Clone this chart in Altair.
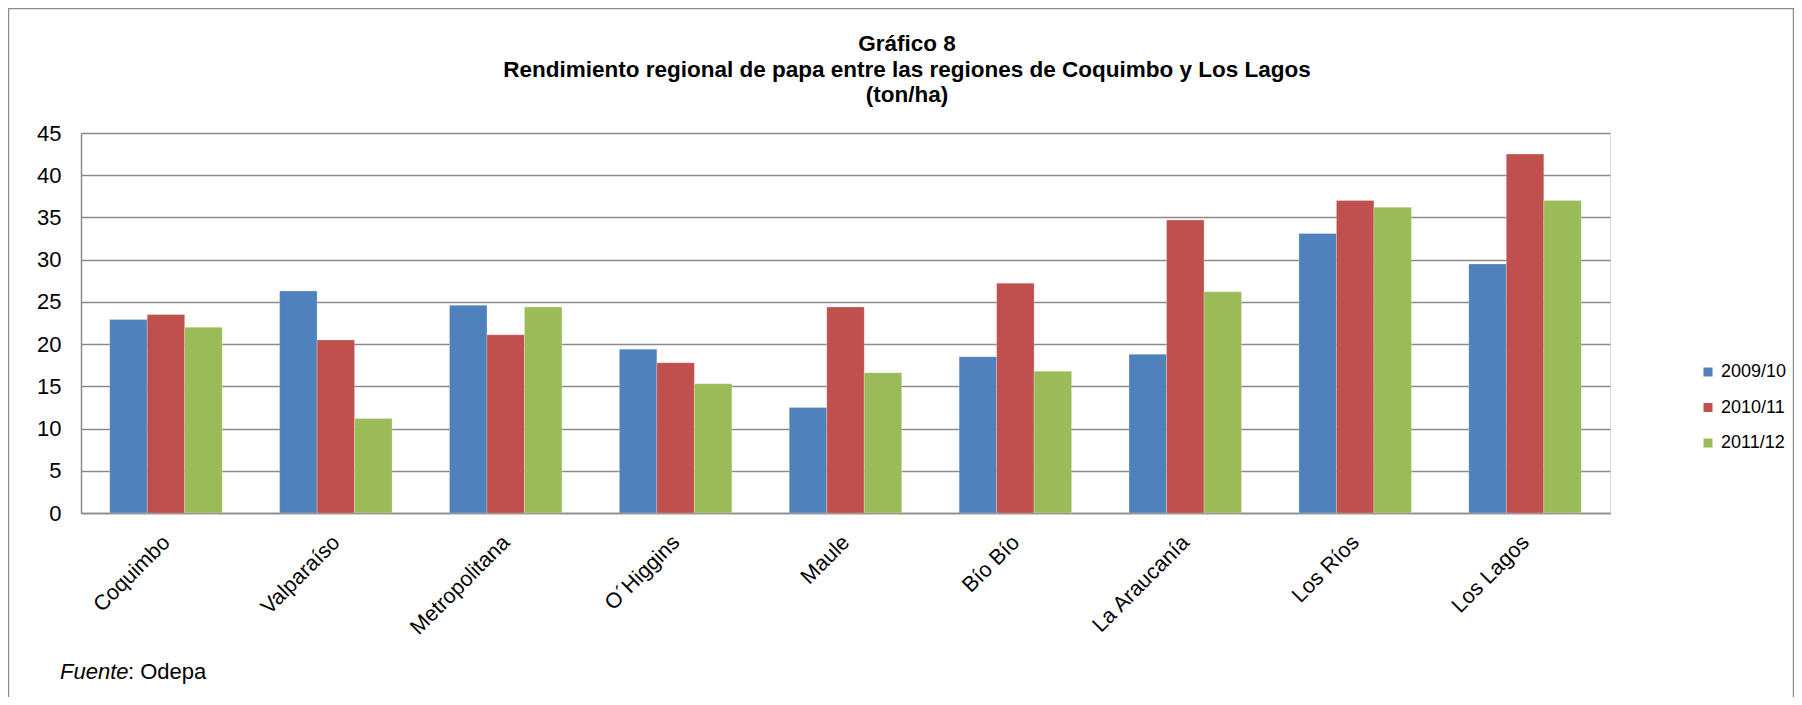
import altair as alt
import pandas as pd

regions = ["Coquimbo", "Valparaíso", "Metropolitana", "O´Higgins", "Maule",
           "Bío Bío", "La Araucanía", "Los Ríos", "Los Lagos"]
seasons = ["2009/10", "2010/11", "2011/12"]
v2009 = [22.9, 26.3, 24.6, 19.4, 12.5, 18.5, 18.8, 33.1, 29.5]
v2010 = [23.5, 20.5, 21.1, 17.8, 24.4, 27.2, 34.7, 37.0, 42.5]
v2011 = [22.0, 11.2, 24.4, 15.3, 16.6, 16.8, 26.2, 36.2, 37.0]
colors = ["#4F81BD", "#C0504D", "#9BBB59"]
y_ticks = [0, 5, 10, 15, 20, 25, 30, 35, 40, 45]
title_lines = ["Gráfico 8",
               "Rendimiento regional de papa entre las regiones de Coquimbo y Los Lagos",
               "(ton/ha)"]

rows = []
for s, vals in zip(seasons, [v2009, v2010, v2011]):
    for r, v in zip(regions, vals):
        rows.append({"region": r, "season": s, "value": v})
df = pd.DataFrame(rows)

FONT = "Liberation Sans"
W, H = 1529, 380
PAD = {"left": 73, "top": 125, "right": 184, "bottom": 184}
GRID = "#8a8a8a"

bars = alt.Chart(df).mark_bar(stroke="#ffffff", strokeWidth=0.4, strokeOpacity=0.6).encode(
    x=alt.X("region:N", sort=regions,
            scale=alt.Scale(paddingInner=0.338, paddingOuter=0.169),
            axis=alt.Axis(title=None, labelAngle=-45, labelAlign="right",
                          labelBaseline="middle", labelPadding=26, labelOffset=1,
                          ticks=False,
                          labelFontSize=21.5, labelFont=FONT, labelColor="#000000",
                          domainColor=GRID, domainWidth=1.5, grid=False)),
    xOffset=alt.XOffset("season:N", sort=seasons,
                        scale=alt.Scale(paddingInner=0, paddingOuter=0)),
    y=alt.Y("value:Q", scale=alt.Scale(domain=[0, 45], nice=False),
            axis=alt.Axis(title=None, values=y_ticks, ticks=False, labelPadding=20,
                          labelFontSize=22, labelFont=FONT, labelColor="#000000",
                          domainColor=GRID, domainWidth=1.5,
                          grid=True, gridColor=GRID, gridWidth=1.5)),
    color=alt.Color("season:N", sort=seasons,
                    scale=alt.Scale(domain=seasons, range=colors),
                    legend=alt.Legend(title=None, orient="none", legendX=1618, legendY=230,
                                      symbolType="square", symbolSize=81,
                                      symbolStrokeWidth=0, labelFontSize=18,
                                      labelFont=FONT, labelColor="#000000",
                                      rowPadding=17.5, labelOffset=4, padding=0)),
)

frame = alt.Chart(pd.DataFrame({"k": [0]})).mark_rect(
    fill=None, stroke="#8c8c8c", strokeWidth=1.5
).encode(
    x=alt.value(-72.5), x2=alt.value(W + PAD["right"] - 0.5),
    y=alt.value(-124.5), y2=alt.value(H + PAD["bottom"] + 20),
)

title = alt.Chart(pd.DataFrame({"t": ["\n".join(title_lines)]})).mark_text(
    align="center", baseline="alphabetic", fontSize=22.5, font=FONT, fontWeight="bold",
    color="#000000", lineBreak="\n", lineHeight=25.5
).encode(text="t:N", x=alt.value(826), y=alt.value(-82))

src_a = alt.Chart(pd.DataFrame({"t": ["Fuente"]})).mark_text(
    align="left", baseline="alphabetic", fontSize=22, font=FONT, fontStyle="italic",
    color="#000000"
).encode(text="t:N", x=alt.value(-21), y=alt.value(546))

src_b = alt.Chart(pd.DataFrame({"t": [": Odepa"]})).mark_text(
    align="left", baseline="alphabetic", fontSize=22, font=FONT, color="#000000"
).encode(text="t:N", x=alt.value(47), y=alt.value(546))

chart = alt.layer(frame, bars, title, src_a, src_b).properties(
    width=W, height=H,
    padding=PAD,
    autosize=alt.AutoSizeParams(type="none"),
).configure_view(stroke=None).configure(background="#ffffff")

chart.save("out.html", embed_options={"renderer": "svg", "actions": False})
